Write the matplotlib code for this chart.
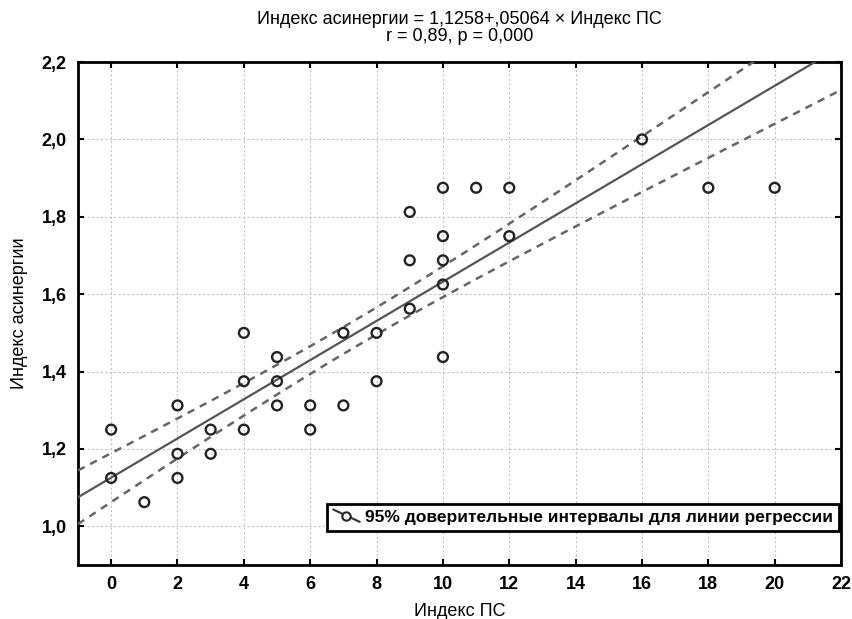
import numpy as np
import matplotlib
matplotlib.use("Agg")
import matplotlib.pyplot as plt
from matplotlib.lines import Line2D
from matplotlib.legend_handler import HandlerBase

plt.rcParams['font.family'] = ['Liberation Sans', 'DejaVu Sans']

# data
ps_index = [0, 0, 1, 2, 2, 2, 3, 3, 4, 4, 4, 5, 5, 5, 6, 6, 7, 7, 8, 8,
            9, 9, 9, 10, 10, 10, 10, 10, 11, 12, 12, 16, 18, 20]
asyn_index = [1.25, 1.125, 1.0625, 1.3125, 1.1875, 1.125, 1.25, 1.1875,
              1.5, 1.375, 1.25, 1.4375, 1.375, 1.3125, 1.3125, 1.25,
              1.5, 1.3125, 1.5, 1.375, 1.8125, 1.6875, 1.5625,
              1.875, 1.75, 1.6875, 1.625, 1.4375, 1.875, 1.875, 1.75,
              2.0, 1.875, 1.875]
intercept = 1.1258
slope = 0.05064
t_crit = 2.037
resid_sd = 0.099   # residual SD as implied by the drawn bands

x = np.array(ps_index, float)
y = np.array(asyn_index, float)
n = len(x)
xbar = x.mean()
sxx = np.sum((x - xbar) ** 2)

xs = np.linspace(-1, 22, 300)
yfit = intercept + slope * xs
hw = t_crit * resid_sd * np.sqrt(1 / n + (xs - xbar) ** 2 / sxx)

fig = plt.figure(figsize=(8.53, 6.19), dpi=100)
ax = fig.add_axes([0.0914, 0.0872, 0.8946, 0.8126])

ax.plot(xs, yfit, color='#555555', lw=1.6, zorder=3)
ax.plot(xs, yfit + hw, color='#666666', lw=1.8, ls=(0, (3, 2.5)), zorder=3)
ax.plot(xs, yfit - hw, color='#666666', lw=1.8, ls=(0, (3, 2.5)), zorder=3)
ax.scatter(x, y, s=50, facecolors='none', edgecolors='#222222', linewidths=1.7, zorder=4)

ax.set_xlim(-1, 22)
ax.set_ylim(0.9, 2.2)
ax.set_xticks(np.arange(0, 23, 2))
ax.set_yticks(np.arange(1.0, 2.21, 0.2))
ax.set_yticklabels([f"{v:.1f}".replace('.', ',') for v in np.arange(1.0, 2.21, 0.2)])
ax.grid(True, color='#c4c4c4', ls=(0, (2, 2)), lw=0.8)
ax.set_axisbelow(True)
for sp in ax.spines.values():
    sp.set_linewidth(2.0)
ax.tick_params(direction='in', length=4, width=1.5, top=True, right=True,
               labelsize=13, pad=8)
for lab in ax.get_xticklabels() + ax.get_yticklabels():
    lab.set_fontweight('bold')

ax.set_xlabel('Индекс ПС', fontsize=13, labelpad=7)
ax.set_ylabel('Индекс асинергии', fontsize=13, labelpad=10)
ax.set_title('Индекс асинергии = 1,1258+,05064 × Индекс ПС\nr = 0,89, p = 0,000',
             fontsize=13, linespacing=1.05, pad=15)


class DiagHandler(HandlerBase):
    def create_artists(self, legend, orig_handle, xdescent, ydescent,
                       width, height, fontsize, trans):
        x0, x1 = -xdescent, width - xdescent
        y0, y1 = -ydescent, height - ydescent
        l = Line2D([x0, x1], [y1, y0], color='#333333', lw=1.5,
                   transform=trans)
        m = Line2D([(x0 + x1) / 2], [(y0 + y1) / 2], marker='o', markersize=6,
                   markerfacecolor='white', markeredgecolor='#222222',
                   markeredgewidth=1.5, ls='none', transform=trans)
        return [l, m]


handle = Line2D([], [])
leg = ax.legend([handle], ['95% доверительные интервалы для линии регрессии'],
                handler_map={Line2D: DiagHandler()},
                loc='lower right', bbox_to_anchor=(0.997, 0.068), fancybox=False,
                framealpha=1, edgecolor='black', handlelength=1.5, handletextpad=0.3,
                borderpad=0.35, borderaxespad=0, prop={'weight': 'bold', 'size': 12.5})
leg.get_frame().set_linewidth(2.0)

fig.savefig('out.png', dpi=100)
